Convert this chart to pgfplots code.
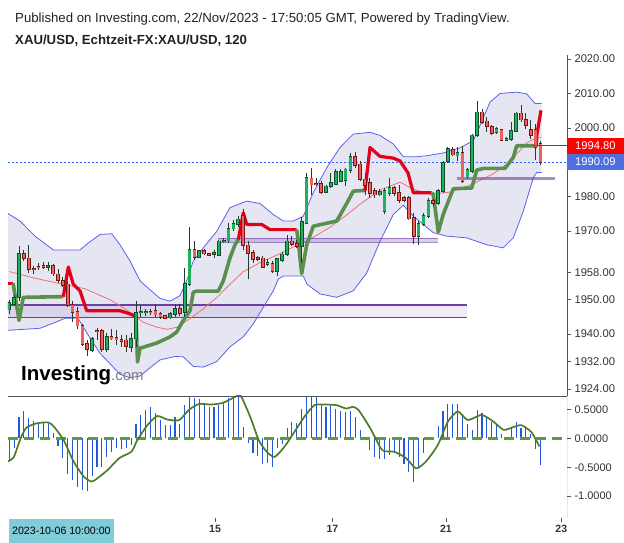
\documentclass[border=0pt]{standalone}
\usepackage{fontspec}
\setmainfont{Liberation Sans}
\usepackage{pgfplots}
\pgfplotsset{compat=1.18}
\usepackage{pgfplotstable}

\definecolor{txt}{HTML}{222222}
\definecolor{tickc}{HTML}{333333}
\definecolor{axgray}{HTML}{555555}
\definecolor{bandline}{HTML}{5C60F0}
\definecolor{bandfill}{HTML}{E6E6F2}
\definecolor{smared}{HTML}{F07070}
\definecolor{trgreen}{HTML}{5B8F4E}
\definecolor{trred}{HTML}{E3001B}
\definecolor{zonepur}{HTML}{6E3FA3}
\definecolor{candg}{HTML}{1DB35C}
\definecolor{candgd}{HTML}{0E4D27}
\definecolor{candr}{HTML}{F0605A}
\definecolor{candrd}{HTML}{7A1414}
\definecolor{wick}{HTML}{1F3F2A}
\definecolor{lastblue}{HTML}{4F6FE0}
\definecolor{lastred}{HTML}{FF0000}
\definecolor{dotblue}{HTML}{2962FF}
\definecolor{histblue}{HTML}{2457E0}
\definecolor{oscgreen}{HTML}{4B7D2B}
\definecolor{zerogreen}{HTML}{5D9B3F}
\definecolor{datebox}{HTML}{80CCD9}

% green candles: index, open, high, low, close
\pgfplotstableread{
i O H L C
0 1947.1 1950.0 1945.9 1949.1
1 1948.8 1951.4 1948.2 1950.6
2 1950.8 1965.6 1949.7 1963.3
8 1959.5 1961.0 1958.4 1959.8
17 1935.4 1939.2 1934.9 1938.6
20 1935.6 1940.2 1934.9 1939.2
25 1936.3 1940.2 1934.9 1938.7
26 1938.7 1949.7 1936.3 1946.1
27 1946.3 1948.2 1945.1 1946.4
28 1946.3 1947.3 1945.4 1946.4
33 1944.8 1946.3 1944.5 1945.9
34 1945.9 1948.7 1945.1 1947.3
36 1946.3 1959.3 1944.9 1954.7
37 1954.5 1971.1 1954.0 1964.6
39 1962.4 1964.6 1962.2 1964.2
42 1963.3 1964.6 1962.2 1963.7
43 1962.9 1967.5 1962.7 1967.0
44 1967.0 1968.0 1966.5 1967.2
45 1967.2 1972.4 1966.5 1970.7
46 1970.7 1973.1 1970.1 1972.1
47 1971.9 1974.3 1971.1 1973.4
53 1960.4 1961.9 1959.8 1960.7
55 1958.4 1962.2 1956.9 1961.8
56 1961.5 1964.0 1961.0 1963.2
57 1963.2 1968.8 1962.7 1967.0
60 1965.6 1974.0 1960.8 1972.7
61 1972.4 1987.0 1971.9 1985.5
65 1981.4 1983.5 1981.1 1983.0
66 1983.0 1987.0 1982.5 1984.0
67 1983.7 1987.9 1983.5 1987.2
68 1984.5 1988.0 1984.2 1987.2
69 1984.7 1988.2 1983.0 1987.9
70 1987.7 1992.8 1987.0 1991.6
76 1980.6 1982.2 1980.1 1981.4
77 1975.8 1982.6 1974.8 1981.6
78 1981.1 1985.5 1980.1 1982.6
84 1968.5 1972.9 1966.0 1972.1
85 1972.1 1975.3 1971.4 1974.3
86 1974.3 1979.7 1973.8 1978.7
88 1978.2 1982.1 1977.7 1981.6
89 1981.6 1990.4 1981.1 1989.9
90 1990.4 1994.3 1989.9 1993.8
92 1991.9 1994.3 1990.4 1992.8
94 1985.5 1988.4 1985.0 1987.7
95 1987.5 1998.3 1987.0 1997.8
96 1997.8 2007.9 1997.3 2004.5
100 1998.7 2000.2 1998.2 1999.7
102 1996.5 1997.3 1996.3 1996.8
103 1996.8 2001.7 1996.3 1999.2
104 1999.0 2004.6 1998.7 2004.2
}\gcandles

% red candles: index, open, high, low, close
\pgfplotstableread{
i O H L C
3 1963.3 1964.4 1961.3 1962.0
4 1962.0 1965.9 1957.8 1958.8
5 1958.9 1959.8 1957.5 1958.8
6 1959.5 1960.7 1958.6 1959.4
7 1959.8 1961.0 1958.9 1959.6
9 1959.8 1960.5 1956.9 1957.6
10 1957.4 1958.8 1955.0 1955.7
11 1955.5 1956.6 1953.6 1954.3
12 1954.5 1955.5 1948.0 1948.5
13 1948.5 1949.5 1943.5 1946.3
14 1946.5 1947.8 1941.6 1942.5
15 1942.5 1943.0 1936.5 1937.1
16 1937.1 1938.2 1933.5 1935.6
18 1940.9 1941.9 1938.2 1940.7
19 1940.9 1941.6 1934.9 1935.6
21 1939.2 1941.6 1938.2 1938.7
22 1939.0 1941.1 1936.8 1938.4
23 1938.4 1939.6 1936.3 1938.0
24 1938.2 1939.6 1934.9 1936.5
29 1946.5 1947.4 1945.7 1946.4
30 1946.8 1948.8 1945.1 1945.7
31 1945.9 1946.3 1944.5 1944.9
32 1945.2 1945.7 1944.3 1944.6
35 1947.3 1948.7 1945.4 1946.1
38 1964.6 1967.0 1961.7 1962.4
40 1964.2 1964.9 1963.0 1963.4
41 1963.4 1963.6 1962.7 1962.9
48 1974.3 1976.5 1964.6 1965.9
49 1965.8 1967.0 1956.0 1963.5
50 1963.7 1964.4 1960.8 1961.8
51 1962.1 1962.7 1961.3 1961.9
52 1962.0 1962.7 1959.1 1959.5
54 1960.5 1961.3 1957.9 1958.4
58 1967.0 1968.5 1965.6 1966.2
59 1966.3 1967.5 1965.1 1965.6
62 1985.3 1988.4 1980.6 1983.5
63 1983.8 1985.5 1983.0 1983.6
64 1983.7 1984.5 1980.8 1981.4
71 1991.6 1993.1 1988.4 1989.1
72 1989.4 1990.4 1984.5 1985.0
73 1985.0 1987.0 1980.6 1983.3
74 1984.0 1985.5 1979.7 1981.1
75 1981.6 1982.6 1979.7 1980.6
79 1982.6 1983.0 1980.1 1981.1
80 1981.1 1983.5 1978.2 1978.9
81 1979.7 1980.1 1978.4 1978.9
82 1979.7 1980.1 1973.3 1973.6
83 1973.8 1975.3 1966.2 1968.5
87 1978.7 1979.2 1977.2 1978.0
91 1993.6 1994.3 1991.9 1992.2
93 1992.8 1994.8 1984.0 1984.5
97 2004.5 2005.6 2001.2 2001.7
98 2001.9 2003.2 1998.7 2000.4
99 2000.2 2000.7 1997.8 1998.4
101 1999.4 1999.7 1996.1 1996.5
105 2004.2 2006.6 2001.7 2002.4
106 2002.4 2004.2 1999.7 2000.7
107 1999.4 2002.2 1996.8 1997.8
108 1999.4 2001.2 1990.6 1994.5
109 1995.4 1996.1 1989.2 1990.09
}\rcandles

\pgfplotstableread{
x y
8 1975.1
20 1972.9
35 1968.5
53.3 1964.5
80 1964.5
88.3 1966.5
100 1969.0
111.7 1969.2
120 1966.0
130 1961.3
140 1955.5
150 1952.9
160 1950.4
170 1949.6
180 1951.2
186.7 1955.5
193.3 1961.3
203.3 1965.1
216.7 1969.9
230 1976.8
246.7 1978.7
260 1978.0
273.3 1974.8
283.3 1972.9
293.3 1972.9
303.3 1974.3
313.3 1981.2
326.7 1988.4
340 1994.3
353.3 1998.2
370 1998.7
380 1997.8
393.3 1995.3
403.3 1991.6
416.7 1991.6
426.7 1991.9
443.3 1992.7
460 1994.2
473.3 1996.3
480 2000.7
490 2007.5
500 2010.0
516.7 2010.4
526.7 2009.9
535 2007.1
541.7 2007.1
}\bbup

\pgfplotstableread{
x y
8 1941.1
40 1941.7
55 1943.4
65 1944.6
78 1944.6
88 1939.8
100 1934.4
110 1931.4
120 1928.3
130 1927.3
140 1927.8
150 1930.2
160 1932.5
175 1933.5
183.3 1933.4
193.3 1930.6
203.3 1930.4
216.7 1932.0
230 1936.3
243.3 1939.2
253.3 1943.0
263.3 1947.8
273.3 1952.6
278.3 1956.0
283.3 1956.9
303.3 1956.9
307 1954.5
320 1951.7
336.7 1950.7
353.3 1952.6
366.7 1957.8
380 1967.0
393.3 1974.8
403.3 1977.5
413.3 1974.3
433.3 1969.5
446.7 1968.5
466.7 1968.0
486.7 1966.0
503.3 1965.1
513.3 1968.0
523.3 1975.8
533.3 1985.5
536.7 1987.0
541.7 1987.0
}\bblo

\pgfplotstableread{
x y
9.3 1958.2
33 1956.4
60 1954.7
85 1953.2
110 1950.0
123 1947.7
133 1945.7
143 1943.5
157 1942.0
167 1941.4
177 1942.0
190 1944.5
203 1947.3
217 1950.7
230 1954.5
243 1958.1
260 1960.8
277 1963.0
293 1965.3
310 1967.6
330 1971.1
345 1974.3
360 1977.8
380 1981.9
400 1984.2
413 1982.2
430 1980.7
450 1981.3
470 1983.3
493 1986.6
507 1989.5
517 1992.5
527 1995.7
535 1996.9
541 1997.2
}\smatab

\pgfplotstableread{
i v
0 -0.37
1 -0.17
2 0.38
3 0.48
4 0.35
5 0.31
6 0.29
7 0.27
8 0.25
9 0.10
10 -0.13
11 -0.34
12 -0.61
13 -0.72
14 -0.84
15 -0.90
16 -0.92
17 -0.66
18 -0.50
19 -0.49
20 -0.32
21 -0.23
22 -0.17
23 -0.18
24 -0.17
25 -0.11
26 0.25
27 0.41
28 0.50
29 0.55
30 0.44
31 0.32
32 0.24
33 0.24
34 0.38
35 0.25
36 0.58
37 0.73
38 0.71
39 0.68
40 0.62
41 0.55
42 0.55
43 0.58
44 0.62
45 0.71
46 0.73
47 0.73
48 0.20
49 -0.07
50 -0.26
51 -0.30
52 -0.44
53 -0.43
54 -0.49
55 -0.16
56 -0.10
57 0.18
58 0.29
59 0.27
60 0.51
61 0.73
62 0.73
63 0.73
64 0.58
65 0.55
66 0.58
67 0.52
68 0.48
69 0.46
70 0.48
71 0.38
72 0.15
73 -0.03
74 -0.20
75 -0.32
76 -0.36
77 -0.36
78 -0.29
79 -0.26
80 -0.32
81 -0.44
82 -0.58
83 -0.75
84 -0.49
85 -0.26
86 -0.03
87 0.03
88 0.21
89 0.47
90 0.60
91 0.60
92 0.60
93 0.41
94 0.25
95 0.15
96 0.49
97 0.44
98 0.35
99 0.29
100 0.25
101 0.08
102 0.01
103 0.19
104 0.29
105 0.19
106 0.19
107 0.08
108 -0.18
109 -0.46
}\histtab

\pgfplotstableread{
x v
8 -0.40
13.9 -0.32
19.9 -0.03
25.9 0.18
35.8 0.26
47.8 0.28
53.7 0.21
63.7 -0.03
73.6 -0.40
83.6 -0.66
91.6 -0.75
97.5 -0.69
107.5 -0.55
119.4 -0.34
131.4 -0.23
137.3 -0.03
147.3 0.23
157.2 0.39
167.2 0.33
179.1 0.32
189.1 0.50
199 0.60
211 0.59
222.9 0.62
234.9 0.72
240.8 0.74
250.8 0.35
258.8 -0.03
266.7 -0.23
274.7 -0.32
284.6 -0.14
294.6 0.12
304.5 0.38
314.5 0.58
326.4 0.59
336.4 0.58
346.3 0.52
352.3 0.55
358.3 0.50
370.2 0.18
382.2 -0.20
394.1 -0.23
406 -0.34
416 -0.52
426 -0.40
437.9 -0.11
447.8 0.29
457.8 0.47
467.8 0.32
481.7 0.41
493.6 0.29
503.6 0.15
513.5 0.20
521.5 0.23
531.4 0.11
539.4 -0.14
}\osctab

\begin{document}
\begin{tikzpicture}[x=1pt,y=1pt]
\useasboundingbox (0,0) rectangle (624,543);

\node[anchor=west,inner sep=0pt,font=\fontsize{13.2}{15}\selectfont,text=txt] at (15,524) {Published on Investing.com, 22/Nov/2023 - 17:50:05 GMT, Powered by TradingView.};
\node[anchor=west,inner sep=0pt,font=\bfseries\fontsize{13.2}{15}\selectfont,text=txt] at (15,502) {XAU/USD, Echtzeit-FX:XAU/USD, 120};

% ---------------- price panel ----------------
\begin{axis}[
  at={(8pt,147pt)}, anchor=south west,
  width=559pt, height=341pt, scale only axis,
  xmin=8, xmax=567,
  ymin=1922.0, ymax=2021.2,
  axis line style={draw=none},
  xtick=\empty,
  ytick={1924,1932,1940,1950,1958,1970,1980,1990,2000,2010,2020},
  yticklabels={1924.00,1932.00,1940.00,1950.00,1958.00,1970.00,1980.00,1990.00,2000.00,2010.00,2020.00},
  ytick pos=right, yticklabel pos=right,
  tick align=outside, major tick length=4pt,
  tick style={draw=axgray, line width=0.6pt},
  yticklabel style={font=\fontsize{11.2}{12}\selectfont, text=tickc, anchor=west},
  clip mode=individual,
]
% Bollinger band area (upper band forward, lower band backward)
\addplot[fill=bandfill, draw=none, forget plot] coordinates {
(8,1975.1) (20,1972.9) (35,1968.5) (53.3,1964.5) (80,1964.5) (88.3,1966.5) (100,1969.0) (111.7,1969.2) (120,1966.0) (130,1961.3) (140,1955.5) (150,1952.9) (160,1950.4) (170,1949.6) (180,1951.2) (186.7,1955.5) (193.3,1961.3) (203.3,1965.1) (216.7,1969.9) (230,1976.8) (246.7,1978.7) (260,1978.0) (273.3,1974.8) (283.3,1972.9) (293.3,1972.9) (303.3,1974.3) (313.3,1981.2) (326.7,1988.4) (340,1994.3) (353.3,1998.2) (370,1998.7) (380,1997.8) (393.3,1995.3) (403.3,1991.6) (416.7,1991.6) (426.7,1991.9) (443.3,1992.7) (460,1994.2) (473.3,1996.3) (480,2000.7) (490,2007.5) (500,2010.0) (516.7,2010.4) (526.7,2009.9) (535,2007.1) (541.7,2007.1)
(541.7,1987.0) (536.7,1987.0) (533.3,1985.5) (523.3,1975.8) (513.3,1968.0) (503.3,1965.1) (486.7,1966.0) (466.7,1968.0) (446.7,1968.5) (433.3,1969.5) (413.3,1974.3) (403.3,1977.5) (393.3,1974.8) (380,1967.0) (366.7,1957.8) (353.3,1952.6) (336.7,1950.7) (320,1951.7) (307,1954.5) (303.3,1956.9) (283.3,1956.9) (278.3,1956.0) (273.3,1952.6) (263.3,1947.8) (253.3,1943.0) (243.3,1939.2) (230,1936.3) (216.7,1932.0) (203.3,1930.4) (193.3,1930.6) (183.3,1933.4) (175,1933.5) (160,1932.5) (150,1930.2) (140,1927.8) (130,1927.3) (120,1928.3) (110,1931.4) (100,1934.4) (88,1939.8) (78,1944.6) (65,1944.6) (55,1943.4) (40,1941.7) (8,1941.1)
};

% purple zone
\addplot[fill=zonepur, fill opacity=0.10, draw=none, forget plot] coordinates {(8,1944.9) (467,1944.9) (467,1948.5) (8,1948.5)};
\addplot[zonepur, line width=1.3pt, forget plot] coordinates {(8,1948.5) (467,1948.5)};
\addplot[zonepur, line width=1.3pt, forget plot] coordinates {(8,1944.9) (467,1944.9)};

\addplot[bandline, line width=0.8pt, forget plot] table[x=x,y=y] \bbup;
\addplot[bandline, line width=0.8pt, forget plot] table[x=x,y=y] \bblo;
\addplot[smared, line width=0.8pt, forget plot] table[x=x,y=y] \smatab;

% purple levels
\addplot[fill=zonepur, fill opacity=0.25, draw=none, forget plot] coordinates {(218,1966.7) (438,1966.7) (438,1967.9) (218,1967.9)};
\addplot[zonepur, opacity=0.6, line width=1.2pt, forget plot] coordinates {(218,1967.9) (438,1967.9)};
\addplot[zonepur, opacity=0.6, line width=1.2pt, forget plot] coordinates {(218,1966.7) (438,1966.7)};
\addplot[zonepur, opacity=0.6, line width=2.6pt, forget plot] coordinates {(457,1985.2) (555,1985.2)};

% last price line
\addplot[dotblue, line width=0.8pt, dash pattern=on 2pt off 2pt, forget plot] coordinates {(8,1990.09) (567,1990.09)};

% trend line (thick)
\addplot[trred, line width=3.2pt, line join=round, forget plot] coordinates {(8,1954.8) (13,1954.8)};
\addplot[trgreen, line width=3.6pt, line join=round, forget plot] coordinates {(13,1954.8) (13.3,1954.5) (19,1944.0) (23.3,1950.7) (63.3,1950.9)};
\addplot[trred, line width=3.2pt, line join=round, forget plot] coordinates {(63.3,1950.9) (68.3,1959.5) (73.3,1954.5) (80,1952.6) (86.7,1946.8) (120,1946.8) (130,1945.9) (136,1945.1)};
\addplot[trgreen, line width=3.6pt, line join=round, forget plot] coordinates {(136,1945.1) (137.5,1931.9) (140,1935.9) (156.7,1937.4) (170,1939.2) (176.7,1940.6) (183.3,1944.0) (190,1946.8) (193.3,1952.2) (196.7,1952.5) (218.3,1952.5) (223.3,1955.5) (230,1962.2) (235,1966.0) (238.3,1967.5)};
\addplot[trred, line width=3.2pt, line join=round, forget plot] coordinates {(238.3,1967.5) (243.3,1975.3) (246.7,1971.9) (261.7,1971.9) (270,1970.4) (296.7,1970.4)};
\addplot[trgreen, line width=3.6pt, line join=round, forget plot] coordinates {(296.7,1970.4) (298.3,1967.0) (301.7,1957.6) (306.7,1966.0) (313.3,1971.4) (336.7,1972.9) (348,1978.7) (353.3,1981.6) (365,1981.8)};
\addplot[trred, line width=3.2pt, line join=round, forget plot] coordinates {(365,1981.8) (370,1994.3) (380,1991.7) (393.3,1991.2) (400,1990.4) (408,1986.9) (413.3,1981.1) (431.7,1981.1)};
\addplot[trgreen, line width=3.6pt, line join=round, forget plot] coordinates {(431.7,1981.1) (433.3,1980.6) (438.3,1969.7) (443.3,1974.9) (453.3,1982.3) (471.7,1982.5) (476.7,1987.7) (483.3,1988.2) (505,1988.2) (513.3,1991.4) (516.7,1994.8) (533.3,1994.8) (536,1994.5)};
\addplot[trred, line width=3.2pt, line join=round, forget plot] coordinates {(536,1994.5) (537,1998.2) (541,2005.1)};

% candles: wicks
\addplot[draw=none, mark=none, forget plot,
  error bars/.cd, y dir=minus, y explicit, error mark=none,
  error bar style={draw=wick, line width=0.9pt}]
  table[x expr={9.3+4.873*\thisrow{i}}, y=H, y error minus expr={\thisrow{H}-\thisrow{L}}] \gcandles;
\addplot[draw=none, mark=none, forget plot,
  error bars/.cd, y dir=minus, y explicit, error mark=none,
  error bar style={draw=wick, line width=0.9pt}]
  table[x expr={9.3+4.873*\thisrow{i}}, y=H, y error minus expr={\thisrow{H}-\thisrow{L}}] \rcandles;
% bodies outline
\addplot[draw=none, mark=none, forget plot,
  error bars/.cd, y dir=minus, y explicit, error mark=none,
  error bar style={draw=candgd, line width=3.7pt}]
  table[x expr={9.3+4.873*\thisrow{i}}, y expr={\thisrow{C}+0.22}, y error minus expr={\thisrow{C}-\thisrow{O}+0.44}] \gcandles;
\addplot[draw=none, mark=none, forget plot,
  error bars/.cd, y dir=minus, y explicit, error mark=none,
  error bar style={draw=candrd, line width=3.7pt}]
  table[x expr={9.3+4.873*\thisrow{i}}, y expr={\thisrow{O}+0.22}, y error minus expr={\thisrow{O}-\thisrow{C}+0.44}] \rcandles;
% bodies fill
\addplot[draw=none, mark=none, forget plot,
  error bars/.cd, y dir=minus, y explicit, error mark=none,
  error bar style={draw=candg, line width=2.3pt}]
  table[x expr={9.3+4.873*\thisrow{i}}, y=C, y error minus expr={\thisrow{C}-\thisrow{O}}] \gcandles;
\addplot[draw=none, mark=none, forget plot,
  error bars/.cd, y dir=minus, y explicit, error mark=none,
  error bar style={draw=candr, line width=2.3pt}]
  table[x expr={9.3+4.873*\thisrow{i}}, y=O, y error minus expr={\thisrow{O}-\thisrow{C}}] \rcandles;

% last close line (red)
\addplot[draw=lastred, line width=1.2pt, forget plot] coordinates {(533,1994.8) (567,1994.8)};

\draw[axgray, line width=0.8pt] (rel axis cs:1,0) -- (rel axis cs:1,1);

% price labels on right
\node[anchor=west, fill=lastred, text=white, inner xsep=8pt, inner ysep=0pt, minimum height=16.4pt, text width=41pt, font=\fontsize{11.2}{12}\selectfont] at (axis cs:567,1994.8) {1994.80};
\node[anchor=west, fill=lastblue, text=white, inner xsep=8pt, inner ysep=0pt, minimum height=15.6pt, text width=41pt, font=\fontsize{11.2}{12}\selectfont] at (axis cs:567,1990.09) {1990.09};
\end{axis}

% Investing logo
\node[anchor=base west, inner sep=0pt, font=\bfseries\fontsize{20.5}{22}\selectfont, text=black] at (21,162) {Investing{\mdseries\fontsize{15}{16}\selectfont\color{gray}.com}};

% ---------------- oscillator panel ----------------
\begin{axis}[
  at={(8pt,25pt)}, anchor=south west,
  width=559pt, height=122pt, scale only axis,
  xmin=8, xmax=567,
  ymin=-1.383, ymax=0.739,
  axis line style={draw=none},
  xtick={215,332.4,445.9,561.3},
  xticklabels={15,17,21,23},
  ytick={-1,-0.5,0,0.5},
  yticklabels={-1.0000,-0.5000,0.0000,0.5000},
  xtick pos=left, ytick pos=right, yticklabel pos=right,
  tick align=outside, major tick length=4pt,
  tick style={draw=axgray, line width=0.6pt},
  yticklabel style={font=\fontsize{11}{12}\selectfont, text=tickc, anchor=west},
  xticklabel style={font=\bfseries\fontsize{10.5}{12}\selectfont, text=tickc},
  clip=true,
]
\addplot[ycomb, histblue, line width=1.1pt, forget plot] table[x expr={9.3+4.873*\thisrow{i}}, y=v] \histtab;
\addplot[zerogreen, line width=2.4pt, dash pattern=on 10pt off 6pt, forget plot] coordinates {(8,0) (567,0)};
\addplot[oscgreen, line width=1.7pt, smooth, tension=0.4, forget plot] table[x=x,y=v] \osctab;
\draw[axgray, line width=0.8pt] (rel axis cs:0,1) -- (rel axis cs:1,1) -- (rel axis cs:1,0) -- (rel axis cs:0,0);
\end{axis}

\node[anchor=north west, fill=datebox, inner xsep=3pt, inner ysep=0pt, minimum height=24pt, text=black, font=\fontsize{10.6}{12}\selectfont] at (9,24.5) {2023-10-06 10:00:00};
\end{tikzpicture}
\end{document}
